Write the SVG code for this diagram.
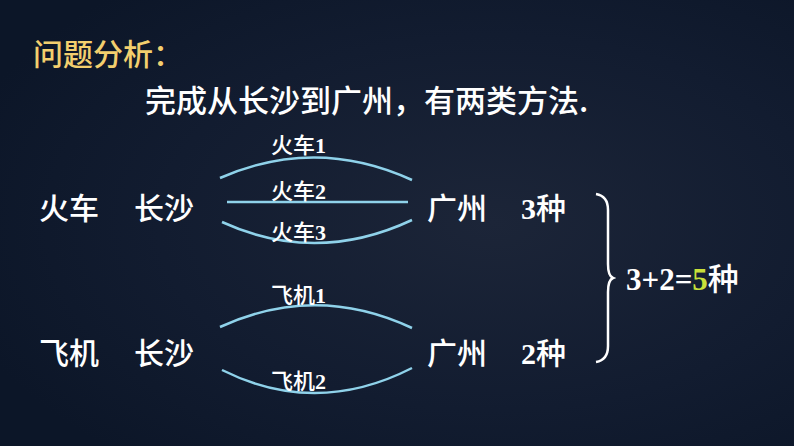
<svg xmlns="http://www.w3.org/2000/svg" width="794" height="446" viewBox="0 0 794 446">
<defs>
<radialGradient id="bg" cx="0.62" cy="0.5" r="0.7">
<stop offset="0" stop-color="#1c2538"/>
<stop offset="0.6" stop-color="#121c30"/>
<stop offset="1" stop-color="#0c1628"/>
</radialGradient>
<style>
.cn{font-family:"Noto Sans CJK SC","Noto Sans",sans-serif;fill:#ffffff;font-weight:500}
.num{font-family:"Liberation Serif","Times New Roman",serif;font-weight:bold}
.arc{fill:none;stroke:#8fd2ea;stroke-width:2.5}
.lbl{font-size:22px}
.row{font-size:30px}
</style>
</defs>
<rect width="794" height="446" fill="url(#bg)"/>
<text x="33" y="65" class="cn" style="fill:#f3cf6e;font-size:30px">问题分析：</text>
<text x="145" y="112" class="cn" style="font-size:31px">完成从长沙到广州，有两类方法.</text>

<g id="row1">
<text x="39" y="219" class="cn row">火车</text>
<text x="134" y="219" class="cn row">长沙</text>
<text x="427" y="219" class="cn row">广州</text>
<text x="521" y="219" class="cn row" font-weight="bold"><tspan class="num">3</tspan>种</text>
</g>
<g id="row2">
<text x="39" y="364" class="cn row">飞机</text>
<text x="134" y="364" class="cn row">长沙</text>
<text x="427" y="364" class="cn row">广州</text>
<text x="521" y="364" class="cn row" font-weight="bold"><tspan class="num">2</tspan>种</text>
</g>

<g id="connectors">
<path class="arc" d="M220,178 Q316,136 412,180"/>
<path class="arc" d="M227,202 L408,202"/>
<path class="arc" d="M222,222 Q316,265 412,220"/>
<path class="arc" d="M220,327 Q316,283 412,328"/>
<path class="arc" d="M222,370 Q316,417 412,368"/>
</g>

<g id="labels">
<text x="271" y="153" class="cn lbl">火车<tspan class="num">1</tspan></text>
<text x="271" y="199" class="cn lbl">火车<tspan class="num">2</tspan></text>
<text x="271" y="240" class="cn lbl">火车<tspan class="num">3</tspan></text>
<text x="271" y="303" class="cn lbl">飞机<tspan class="num">1</tspan></text>
<text x="271" y="389" class="cn lbl">飞机<tspan class="num">2</tspan></text>
</g>

<g id="brace">
<path d="M596,194 Q608,196 608,210 L608,264 Q608,276 613,278 Q608,280 608,292 L608,346 Q608,360 596,362" fill="none" stroke="#ffffff" stroke-width="2.5"/>
</g>
<g id="total">
<text x="626" y="290" class="cn" style="font-size:31px" font-weight="bold"><tspan class="num">3+2=</tspan><tspan class="num" fill="#c8e03a">5</tspan>种</text>
</g>
</svg>
